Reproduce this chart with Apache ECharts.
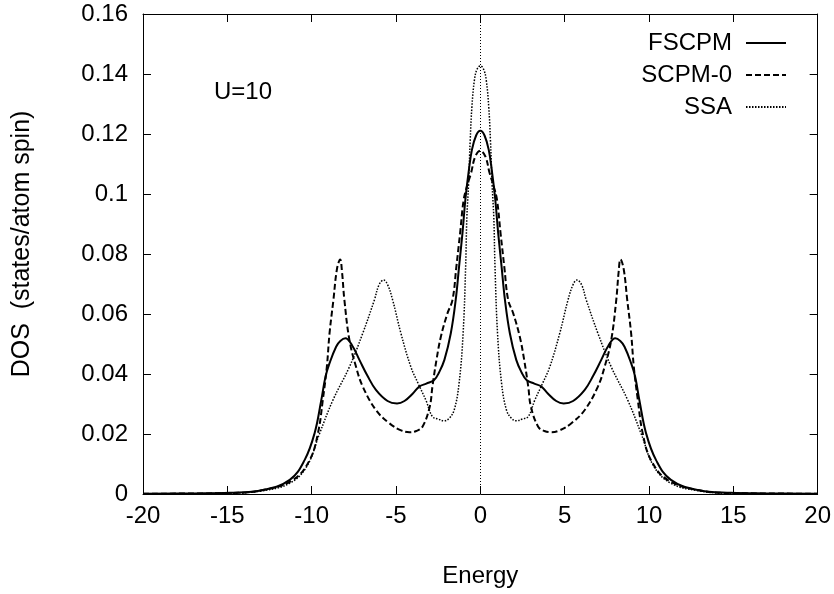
<!DOCTYPE html>
<html>
<head>
<meta charset="utf-8">
<script src="https://cdn.jsdelivr.net/npm/echarts@6/dist/echarts.min.js"></script>
<style>
  html, body { margin: 0; padding: 0; background: #fff; }
  #chart { width: 834px; height: 594px; }
</style>
</head>
<body>
<div id="chart"></div>
<script>
// FSCPM (solid)
const energyFSCPM = [-20, -17, -14.85, -12.88, -11.3, -10.42, -9.83, -9.43, -9.18, -8.94, -8.55, -8.3, -8.0, -7.6, -7.17, -6.7, -6.19, -5.5, -4.94, -4.5, -4.0, -3.62, -3.2, -2.74, -2.45, -2.13, -1.75, -1.46, -1.26, -1.06, -0.88, -0.7, -0.5, -0.25,
  0, 0.25, 0.5, 0.7, 0.88, 1.06, 1.26, 1.46, 1.75, 2.13, 2.45, 2.74, 3.2, 3.62, 4.0, 4.5, 4.94, 5.5, 6.19, 6.7, 7.17, 7.6, 8.0, 8.3, 8.55, 8.94, 9.18, 9.43, 9.83, 10.42, 11.3, 12.88, 14.85, 17, 20];
const dosFSCPM = [0.0001, 0.0002, 0.0004, 0.0013, 0.0047, 0.0113, 0.0202, 0.0313, 0.0391, 0.0436, 0.0491, 0.051, 0.0519, 0.0495, 0.0447, 0.0395, 0.0347, 0.031, 0.0302, 0.031, 0.0335, 0.0358, 0.0368, 0.038, 0.0405, 0.0447, 0.0536, 0.0647, 0.0758, 0.0869, 0.0985, 0.107, 0.1147, 0.1195,
  0.1211, 0.1195, 0.1147, 0.107, 0.0985, 0.0869, 0.0758, 0.0647, 0.0536, 0.0447, 0.0405, 0.038, 0.0368, 0.0358, 0.0335, 0.031, 0.0302, 0.031, 0.0347, 0.0395, 0.0447, 0.0495, 0.0519, 0.051, 0.0491, 0.0436, 0.0391, 0.0313, 0.0202, 0.0113, 0.0047, 0.0013, 0.0004, 0.0002, 0.0001];

// SCPM-0 (dashed)
const energySCPM0 = [-20, -15, -12.9, -11.1, -10.12, -9.63, -9.34, -9.1, -8.94, -8.71, -8.5, -8.31, -8.2, -8.06, -7.76, -7.37, -6.97, -6.19, -5.4, -4.7, -4.2, -3.8, -3.43, -3.0, -2.84, -2.6, -2.34, -1.95, -1.65, -1.42, -1.2, -0.99, -0.8, -0.55, -0.3,
  0, 0.3, 0.55, 0.8, 0.99, 1.2, 1.42, 1.65, 1.95, 2.34, 2.6, 2.84, 3.0, 3.43, 3.8, 4.2, 4.7, 5.4, 6.19, 6.97, 7.37, 7.76, 8.06, 8.2, 8.31, 8.5, 8.71, 8.94, 9.1, 9.34, 9.63, 10.12, 11.1, 12.9, 15, 20];
const dosSCPM0 = [0.0001, 0.0003, 0.0013, 0.0047, 0.0113, 0.0202, 0.0313, 0.0424, 0.0536, 0.0647, 0.075, 0.0782, 0.074, 0.0647, 0.0513, 0.0424, 0.0358, 0.028, 0.0236, 0.0212, 0.0206, 0.021, 0.0224, 0.0291, 0.0358, 0.0447, 0.0524, 0.0602, 0.0647, 0.0758, 0.0869, 0.098, 0.1024, 0.107, 0.1125,
  0.1144, 0.1125, 0.107, 0.1024, 0.098, 0.0869, 0.0758, 0.0647, 0.0602, 0.0524, 0.0447, 0.0358, 0.0291, 0.0224, 0.021, 0.0206, 0.0212, 0.0236, 0.028, 0.0358, 0.0424, 0.0513, 0.0647, 0.074, 0.0782, 0.075, 0.0647, 0.0536, 0.0424, 0.0313, 0.0202, 0.0113, 0.0047, 0.0013, 0.0003, 0.0001];

// SSA (dotted)
const energySSA = [-20, -15, -12.9, -11.3, -10.3, -9.53, -8.74, -7.76, -6.97, -6.28, -6.0, -5.73, -5.5, -5.2, -4.71, -4.12, -3.7, -3.23, -2.84, -2.5, -2.15, -1.85, -1.55, -1.26, -1.02, -0.87, -0.8, -0.7, -0.6, -0.5, -0.35, -0.2,
  0, 0.2, 0.35, 0.5, 0.6, 0.7, 0.8, 0.87, 1.02, 1.26, 1.55, 1.85, 2.15, 2.5, 2.84, 3.23, 3.7, 4.12, 4.71, 5.2, 5.5, 5.73, 6.0, 6.28, 6.97, 7.76, 8.74, 9.53, 10.3, 11.3, 12.9, 15, 20];
const dosSSA = [0, 0.0002, 0.0011, 0.0036, 0.0091, 0.0202, 0.0313, 0.0424, 0.0536, 0.0647, 0.0698, 0.0713, 0.0698, 0.0647, 0.0536, 0.0424, 0.037, 0.0313, 0.0258, 0.025, 0.0244, 0.0252, 0.028, 0.0369, 0.0536, 0.0758, 0.092, 0.103, 0.118, 0.129, 0.138, 0.1415,
  0.1427, 0.1415, 0.138, 0.129, 0.118, 0.103, 0.092, 0.0758, 0.0536, 0.0369, 0.028, 0.0252, 0.0244, 0.025, 0.0258, 0.0313, 0.037, 0.0424, 0.0536, 0.0647, 0.0698, 0.0713, 0.0698, 0.0647, 0.0536, 0.0424, 0.0313, 0.0202, 0.0091, 0.0036, 0.0011, 0.0002, 0];

const seriesNames = ['FSCPM', 'SCPM-0', 'SSA'];
const xTicks = { min: -20, max: 20, step: 5 };
const yTicks = { min: 0, max: 0.16, step: 0.02 };

const zip = (xs, ys) => xs.map((x, i) => [x, ys[i]]);

const FONT = 'Liberation Sans';
const FS = 24;
const chart = echarts.init(document.getElementById('chart'));

const boxAxis = (extra) => Object.assign({
  type: 'value',
  axisLine: { show: true, onZero: false, lineStyle: { color: '#000', width: 1 } },
  axisTick: { show: true, inside: true, length: 8, lineStyle: { color: '#000' } },
  splitLine: { show: false },
  axisLabel: { show: false }
}, extra);

chart.setOption({
  backgroundColor: '#fff',
  animation: false,
  grid: { left: 143, right: 14, top: 14, bottom: 100 },
  title: {
    text: 'U=10', left: 209, top: 75,
    textStyle: { fontFamily: FONT, fontSize: FS, fontWeight: 'normal', color: '#000' }
  },
  legend: {
    data: seriesNames,
    orient: 'vertical', align: 'right',
    right: 42, top: 26,
    itemWidth: 40, itemHeight: 14, itemGap: 8,
    itemStyle: { color: 'transparent', borderColor: 'transparent', borderWidth: 0 },
    textStyle: { fontFamily: FONT, fontSize: FS, color: '#000', padding: [0, 9, 0, 0] }
  },
  xAxis: [
    boxAxis({
      position: 'bottom', min: xTicks.min, max: xTicks.max, interval: xTicks.step,
      name: 'Energy', nameLocation: 'middle', nameGap: 70,
      nameTextStyle: { fontFamily: FONT, fontSize: FS, color: '#000' },
      axisLabel: { show: true, margin: 10, fontFamily: FONT, fontSize: FS, color: '#000' }
    }),
    boxAxis({ position: 'top', min: xTicks.min, max: xTicks.max, interval: xTicks.step })
  ],
  yAxis: [
    boxAxis({
      position: 'left', min: yTicks.min, max: yTicks.max, interval: yTicks.step,
      name: 'DOS  (states/atom spin)', nameLocation: 'middle', nameGap: 108,
      nameTextStyle: { fontFamily: FONT, fontSize: 25, color: '#000', padding: [0, 0, 0, 20] },
      axisLabel: { show: true, margin: 15, fontFamily: FONT, fontSize: FS, color: '#000' }
    }),
    boxAxis({ position: 'right', min: yTicks.min, max: yTicks.max, interval: yTicks.step })
  ],
  series: [
    {
      name: seriesNames[0], type: 'line', data: zip(energyFSCPM, dosFSCPM),
      smooth: 0.4, symbol: 'none', color: '#000',
      lineStyle: { color: '#000', width: 2, type: 'solid' },
      markLine: {
        silent: true, symbol: 'none', label: { show: false },
        lineStyle: { color: '#000', width: 1, type: [1, 2] },
        data: [{ xAxis: 0 }]
      }
    },
    {
      name: seriesNames[1], type: 'line', data: zip(energySCPM0, dosSCPM0),
      smooth: 0.4, symbol: 'none', color: '#000',
      lineStyle: { color: '#000', width: 2, type: [6, 3] }
    },
    {
      name: seriesNames[2], type: 'line', data: zip(energySSA, dosSSA),
      smooth: 0.4, symbol: 'none', color: '#000',
      lineStyle: { color: '#000', width: 1.5, type: [1.5, 1.5] }
    }
  ]
});
</script>
</body>
</html>
